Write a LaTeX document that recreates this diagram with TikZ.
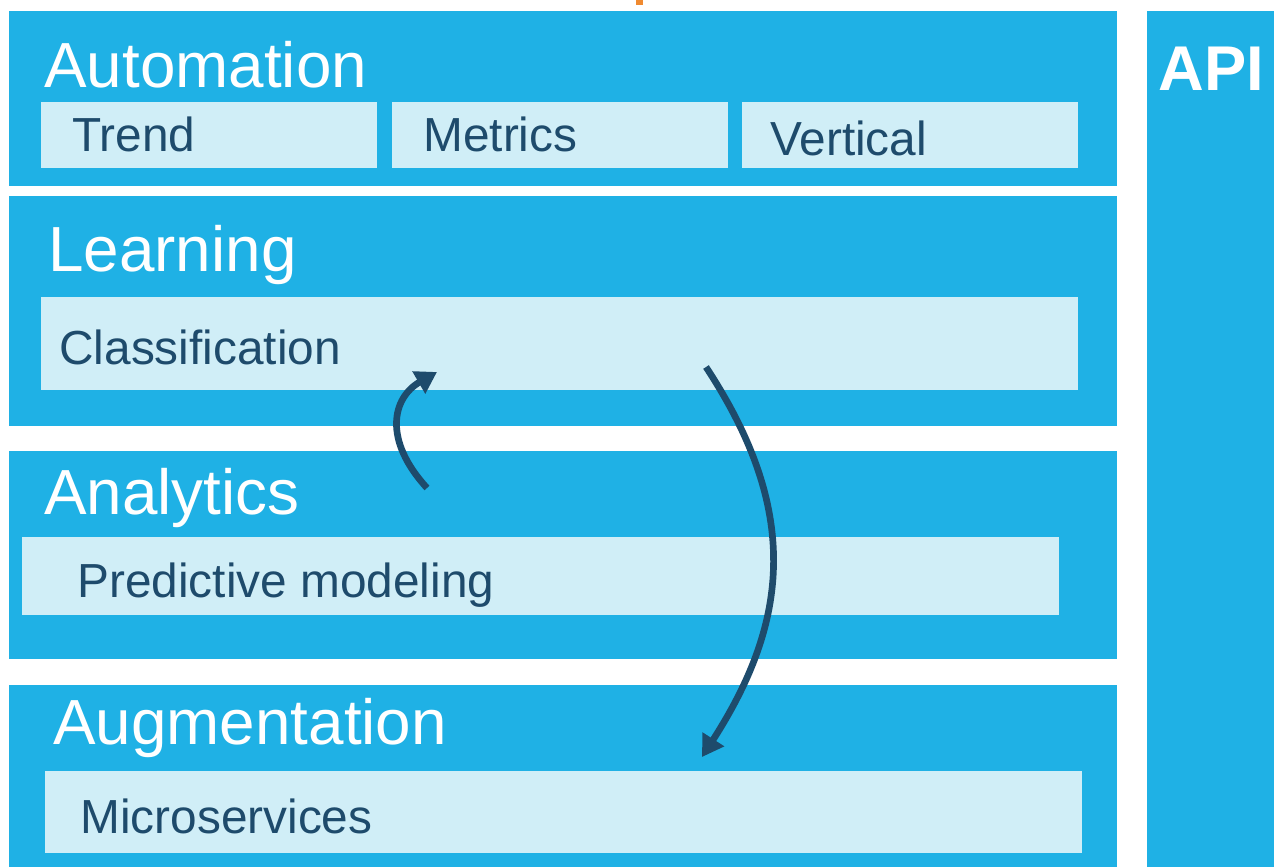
\documentclass[tikz,border=0pt]{standalone}
\usepackage{fontspec}
\setmainfont{Liberation Sans}
\usepackage{tikz}
\usetikzlibrary{arrows.meta, positioning}
\definecolor{mBlue}{HTML}{1FB1E5}
\definecolor{mPale}{HTML}{D0EEF7}
\definecolor{mNavy}{HTML}{1E4B6C}
\definecolor{mOrange}{HTML}{F08A30}

\begin{document}
\begin{tikzpicture}[x=0.02cm, y=-0.02cm,
    layer/.style={rectangle, fill=mBlue, anchor=north west, inner sep=0pt, minimum width=22.16cm},
    sub/.style={rectangle, fill=mPale, anchor=north west, inner sep=0pt},
    title/.style={anchor=base west, inner sep=0pt, text=white, font=\fontsize{36.3}{40}\selectfont},
    item/.style={anchor=base west, inner sep=0pt, text=mNavy, font=\fontsize{27.2}{30}\selectfont},
    flow/.style={line width=3.8pt, mNavy, -{Triangle[width=14pt, length=12pt]}}
]
    \useasboundingbox (0,0) rectangle (1274,867);
    \fill[mOrange] (636,0) rectangle (643,5);

    % layers
    \node[layer, minimum height=3.5cm] (auto) at (9,11) {};
    \node[layer, minimum height=4.6cm] (learn) at (9,196) {};
    \node[layer, minimum height=4.16cm] (analyt) at (9,451) {};
    \node[layer, minimum height=3.64cm] (augm) at (9,685) {};
    \node[layer, minimum width=2.54cm, minimum height=17.12cm] (api) at (1147,11) {};

    \node[sub, minimum width=6.72cm, minimum height=1.32cm] (trend) at (41,102) {};
    \node[sub, minimum width=6.72cm, minimum height=1.32cm] (metrics) at (392,102) {};
    \node[sub, minimum width=6.72cm, minimum height=1.32cm] (vert) at (742,102) {};
    \node[sub, minimum width=20.74cm, minimum height=1.86cm] (classif) at (41,297) {};
    \node[sub, minimum width=20.74cm, minimum height=1.56cm] (predict) at (22,537) {};
    \node[sub, minimum width=20.74cm, minimum height=1.64cm] (micro) at (45,771) {};

    % labels
    \node[title] (autoT) at (44,87) {Automation};
    \node[title] (learnT) at (48,271) {Learning};
    \node[title] (analytT) at (44,514) {Analytics};
    \node[title] (augmT) at (53,744) {Augmentation};
    \node[title, font=\fontsize{36}{40}\selectfont\bfseries] (apiT) at (1158,90) {API};

    \node[item] (trendT) at (72,151) {Trend};
    \node[item] (metricsT) at (423,151) {Metrics};
    \node[item] (vertT) at (770,155) {Vertical};
    \node[item] (classifT) at (59,364) {Classification};
    \node[item] (predictT) at (77,597) {Predictive modeling};
    \node[item] (microT) at (80,833) {Microservices};

    \coordinate (upS) at (427,488);
    \coordinate (upE) at (437,372);
    \coordinate (dnS) at (706,367);
    \coordinate (dnE) at (702,757);
    \draw[flow] (upS) .. controls (383,440) and (392,398) .. (upE);
    \draw[flow] (dnS) .. controls (800,510) and (790,620) .. (dnE);
\end{tikzpicture}
\end{document}
